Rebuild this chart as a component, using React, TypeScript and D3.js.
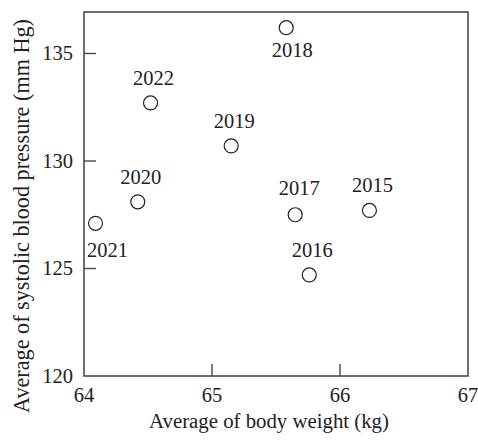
import React from "react";
import * as d3 from "d3";

// Yearly averages: body weight (kg) vs systolic blood pressure (mm Hg)
const years = ["2015", "2016", "2017", "2018", "2019", "2020", "2021", "2022"];
const weights = [66.23, 65.76, 65.65, 65.58, 65.15, 64.42, 64.09, 64.52];
const pressures = [127.7, 124.7, 127.5, 136.2, 130.7, 128.1, 127.1, 132.7];

const xTicks = [64, 65, 66, 67];
const yTicks = [120, 125, 130, 135];

const xTitle = "Average of body weight (kg)";
const yTitle = "Average of systolic blood pressure (mm Hg)";

const W = 478;
const H = 441;
const margin = { left: 84, top: 12, right: 10, bottom: 65 };

const FONT = "'Liberation Serif', 'Times New Roman', serif";

// label offsets relative to each marker (default: centred just above)
const labelOffset: Record<string, [number, number]> = {
  "2018": [6, 29],
  "2021": [12, 34],
  "2017": [4, -20],
};

export default function App() {
  const x = d3.scaleLinear().domain([64, 67]).range([margin.left, W - margin.right]);
  const y = d3.scaleLinear().domain([120, 136.93]).range([H - margin.bottom, margin.top]);
  const x0 = x(64), x1 = x(67), y0 = y(120), y1 = margin.top;
  const axisColor = "#4a4a4a";
  const tickLen = 12;

  return (
    <svg
      width={W}
      height={H}
      style={{ position: "absolute", left: 0, top: 0, background: "#fff" }}
      fontFamily={FONT}
    >
      {/* plot frame */}
      <rect x={x0} y={y1} width={x1 - x0} height={y0 - y1} fill="none" stroke={axisColor} strokeWidth={1.6} />

      {/* x ticks (inward) */}
      {xTicks.map((t) => (
        <g key={"xt" + t}>
          {t > 64 && t < 67 && (
            <line x1={x(t)} x2={x(t)} y1={y0} y2={y0 - tickLen} stroke={axisColor} strokeWidth={1.4} />
          )}
          <text x={x(t)} y={y0 + 26} textAnchor="middle" fontSize={20.5} fill="#222">
            {t}
          </text>
        </g>
      ))}

      {/* y ticks (inward) */}
      {yTicks.map((t) => (
        <g key={"yt" + t}>
          {t > 120 && (
            <line x1={x0} x2={x0 + tickLen} y1={y(t)} y2={y(t)} stroke={axisColor} strokeWidth={1.4} />
          )}
          <text x={x0 - 11} y={y(t) + 7} textAnchor="end" fontSize={20.5} fill="#222">
            {t}
          </text>
        </g>
      ))}

      {/* points with year labels */}
      {years.map((yr, i) => {
        const cx = x(weights[i]);
        const cy = y(pressures[i]);
        const [dx, dy] = labelOffset[yr] ?? [3, -18];
        return (
          <g key={yr}>
            <circle cx={cx} cy={cy} r={7} fill="#fff" stroke="#222" strokeWidth={1.2} />
            <text x={cx + dx} y={cy + dy} textAnchor="middle" fontSize={20.5} fill="#222">
              {yr}
            </text>
          </g>
        );
      })}

      {/* axis titles */}
      <text x={269} y={428} textAnchor="middle" fontSize={20.8} fill="#222">
        {xTitle}
      </text>
      <text
        transform={`translate(29, 216) rotate(-90)`}
        textAnchor="middle"
        fontSize={22.2}
        fill="#222"
      >
        {yTitle}
      </text>
    </svg>
  );
}
